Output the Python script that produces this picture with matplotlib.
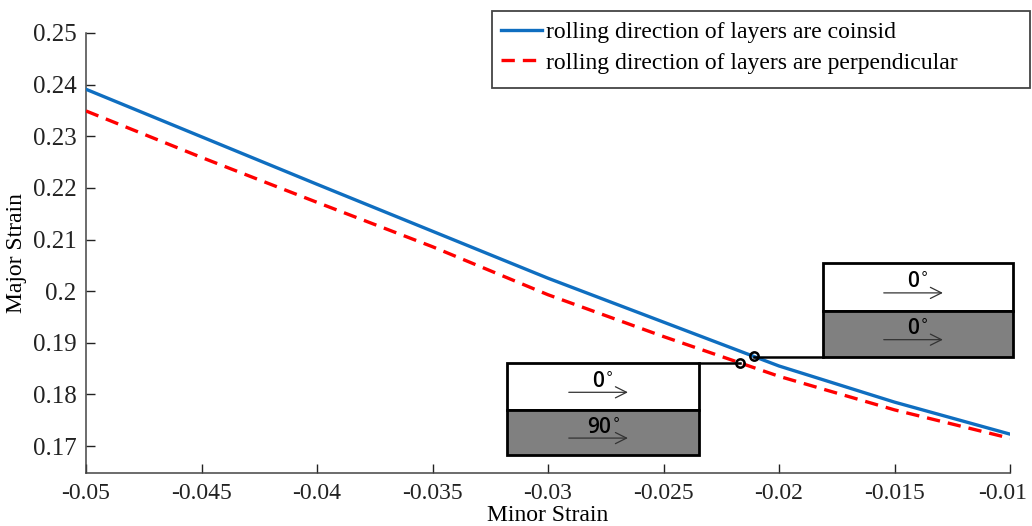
import matplotlib.pyplot as plt
import matplotlib.transforms as mtransforms
import numpy as np

# values
minor = [-0.05, -0.045, -0.04, -0.035, -0.03, -0.025, -0.02, -0.015, -0.01]
major_coinsid = [0.2391, 0.2299, 0.2207, 0.2116, 0.2025, 0.1940, 0.1855, 0.1785, 0.1723]
major_perp = [0.2349, 0.2259, 0.2172, 0.2086, 0.1993, 0.1912, 0.1835, 0.1770, 0.1715]

xticks = [-0.05, -0.045, -0.04, -0.035, -0.03, -0.025, -0.02, -0.015, -0.01]
xtick_labels = ['-0.05', '-0.045', '-0.04', '-0.035', '-0.03', '-0.025', '-0.02', '-0.015', '-0.01']
yticks = [0.17, 0.18, 0.19, 0.2, 0.21, 0.22, 0.23, 0.24, 0.25]
ytick_labels = ['0.17', '0.18', '0.19', '0.2', '0.21', '0.22', '0.23', '0.24', '0.25']

labels = ['rolling direction of layers are coinsid',
          'rolling direction of layers are perpendicular']

# marked points and the layer sketches that go with them
mark_coinsid = -0.0211
mark_perp = -0.0217
box_coinsid = dict(x0=-0.0181, x1=-0.00987, y0=0.18721, ymid=0.19612, y1=0.20543, top='0', bottom='0')
box_perp = dict(x0=-0.03178, x1=-0.02346, y0=0.16822, ymid=0.17694, y1=0.18605, top='0', bottom='90')

plt.rcParams['font.family'] = ['Liberation Serif', 'DejaVu Serif']

fig = plt.figure(figsize=(10.32, 5.26), dpi=100)
ax = fig.add_axes([86 / 1032, 1 - 473 / 526, (1010 - 86) / 1032, (473 - 33) / 526])

blue = '#0F6EC0'
red = '#FF0000'
ax.plot(minor, major_coinsid, color=blue, lw=2.4, label=labels[0], zorder=3)
ax.plot(minor, major_perp, color=red, lw=2.4, ls=(0, (4, 2.4)), label=labels[1], zorder=3)

ax.set_xlim(-0.05, -0.01)
ax.set_ylim(0.16477, 0.25)
ax.set_xticks(xticks)
ax.set_xticklabels(xtick_labels)
ax.set_yticks(yticks)
ax.set_yticklabels(ytick_labels)
ax.tick_params(direction='in', length=6.5, width=1, labelsize=18, colors='#222222', pad=7)
ax.tick_params(axis='x', labelsize=17)
ax.spines['top'].set_visible(False)
ax.spines['right'].set_visible(False)
for s in ['left', 'bottom']:
    ax.spines[s].set_color('#444444')
    ax.spines[s].set_linewidth(1.1)
ax.set_xlabel('Minor Strain', fontsize=17, labelpad=1)
ax.set_ylabel('Major Strain', fontsize=17, labelpad=4)

# last x label sits a bit left of its tick, so it stays inside the figure
last = ax.get_xticklabels()[-1]
last.set_transform(last.get_transform() + mtransforms.ScaledTranslation(-7 / 100, 0, fig.dpi_scale_trans))


def draw_box(b, point_x, point_y, side):
    top = plt.Rectangle((b['x0'], b['ymid']), b['x1'] - b['x0'], b['y1'] - b['ymid'],
                        facecolor='white', edgecolor='black', lw=2, clip_on=False, zorder=4)
    bot = plt.Rectangle((b['x0'], b['y0']), b['x1'] - b['x0'], b['ymid'] - b['y0'],
                        facecolor='#808080', edgecolor='black', lw=2, clip_on=False, zorder=4)
    ax.add_patch(top)
    ax.add_patch(bot)
    cx = (b['x0'] + b['x1']) / 2
    for (ya, yb), txt in [((b['ymid'], b['y1']), b['top']), ((b['y0'], b['ymid']), b['bottom'])]:
        h = yb - ya
        ax.annotate('', xy=(cx + 0.0012, ya + 0.38 * h), xytext=(cx - 0.0016, ya + 0.38 * h),
                    arrowprops=dict(arrowstyle='->', color='#333333', lw=0.9,
                                    mutation_scale=20), zorder=5, annotation_clip=False)
        ax.text(cx, ya + 0.62 * h, txt + r'$^{\circ}$', ha='center', va='center', fontsize=15,
                family='Open Sans', fontweight='semibold', color='black', zorder=6)
    # connector from box to the marked point
    if side == 'left':
        ax.plot([b['x1'], point_x], [b['y1'], b['y1']], color='black', lw=1.8, zorder=4, clip_on=False)
    else:
        ax.plot([point_x, b['x0']], [b['y0'], b['y0']], color='black', lw=1.8, zorder=4, clip_on=False)
    ax.plot([point_x], [point_y], marker='o', ms=6, mfc='none', mec='black', mew=1.8, zorder=7)


draw_box(box_perp, mark_perp, np.interp(mark_perp, minor, major_perp), 'left')
draw_box(box_coinsid, mark_coinsid, np.interp(mark_coinsid, minor, major_coinsid), 'right')

# legend frame is wider than its entries, so draw it separately
frame = plt.Rectangle((492 / 1032, 1 - 88 / 526), (1030 - 492) / 1032, (88 - 11) / 526,
                      transform=fig.transFigure, facecolor='white', edgecolor='#444444',
                      lw=1.3, zorder=9, clip_on=False)
ax.add_patch(frame)
leg = ax.legend(loc='upper left', bbox_to_anchor=(496 / 1032, 1 - 17 / 526),
                bbox_transform=fig.transFigure, fontsize=17, frameon=False,
                handlelength=1.75, handletextpad=0.15, borderaxespad=0, labelspacing=0.37,
                borderpad=0.2)
leg.set_zorder(10)

fig.savefig('out.png', dpi=100)
